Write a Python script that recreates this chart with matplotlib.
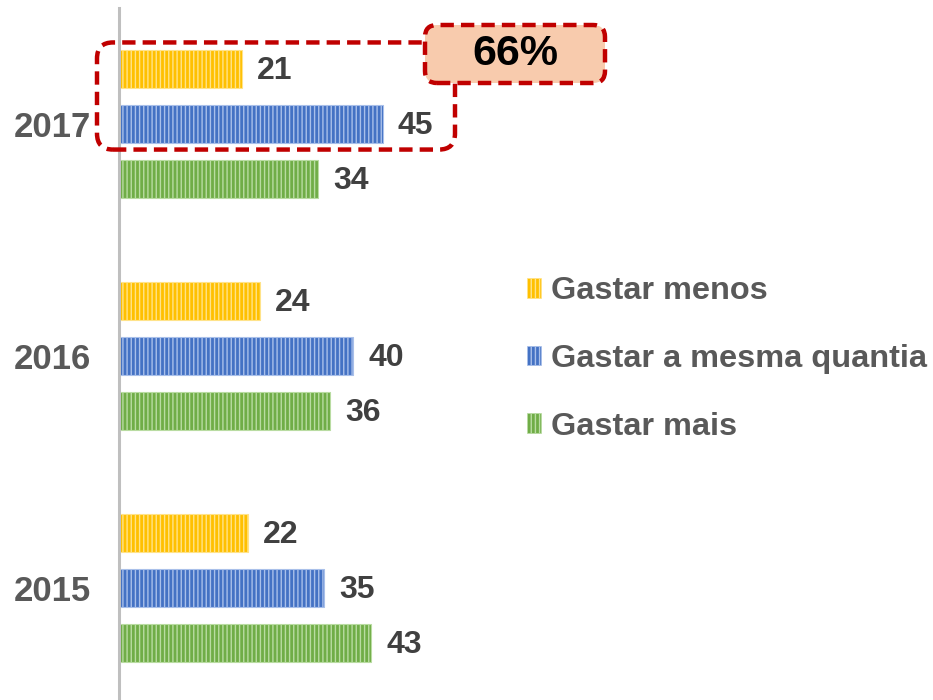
import matplotlib
matplotlib.use("Agg")
import matplotlib.pyplot as plt
from matplotlib.patches import FancyBboxPatch, Patch
import numpy as np

years = ["2015", "2016", "2017"]
series_names = ["Gastar menos", "Gastar a mesma quantia", "Gastar mais"]
gastar_menos = [22, 24, 21]
gastar_mesma = [35, 40, 45]
gastar_mais = [43, 36, 34]
highlight_label = "66%"

colors = ["#FFC000", "#4472C4", "#70AD47"]
stripe = ["#FFE38A", "#A9C0EA", "#B9DCA2"]

plt.rcParams['font.family'] = ['Liberation Sans', 'DejaVu Sans']
plt.rcParams['hatch.linewidth'] = 1.0

fig = plt.figure(figsize=(9.33, 7.0), dpi=100)
ax = fig.add_axes([119/933, 0, 814/933, 692/700])

PXX = 5.86   # px per x unit
PXY = 232.0  # px per y unit

y = np.arange(len(years))
h = 0.16
off = 0.237
series = [gastar_menos, gastar_mesma, gastar_mais]
for i, (vals, c, sc, name) in enumerate(zip(series, colors, stripe, series_names)):
    yy = y + off * (1 - i)
    bars = ax.barh(yy, vals, height=h, color=c, edgecolor=sc, linewidth=0.8,
                   hatch='||||', label=name)
    for b, v in zip(bars, vals):
        ax.text(v + 2.6, b.get_y() + b.get_height() / 2 - 0.01, str(v), va='center', ha='left',
                fontsize=23, fontweight='bold', color='#404040')

ax.set_xlim(0, 814 / PXX)
ax.set_ylim(-112/PXY, 2 + 116/PXY)
ax.set_yticks(y)
ax.set_yticklabels(years, fontsize=25, fontweight='bold', color='#595959')
ax.tick_params(axis='y', length=0, pad=20.5)
ax.set_xticks([])
for s in ['top', 'right', 'bottom']:
    ax.spines[s].set_visible(False)
ax.spines['left'].set_color('#BFBFBF')
ax.spines['left'].set_linewidth(2.2)

dash = (0, (3, 1.6))
red = '#C00000'
aspect = PXX / PXY

# highlight box around 2017 yellow and blue bars
x0, x1 = -22 / PXX, 336 / PXX
y_hi = 2 + off + h / 2 + 8 / PXY
y_lo = 2 - h / 2 - 7 / PXY
rect = FancyBboxPatch((x0, y_lo), x1 - x0, y_hi - y_lo,
                      boxstyle="round,pad=0,rounding_size=%f" % (16 / PXX),
                      mutation_aspect=aspect,
                      fill=False, edgecolor=red, linewidth=3.2,
                      linestyle=dash, clip_on=False, zorder=5)
ax.add_patch(rect)

# 66% callout
bx0, bx1 = 306 / PXX, 486 / PXX
by_hi = 2 + 116 / PXY + 8 / PXY - 25 / PXY
by_lo = by_hi - 58 / PXY
box = FancyBboxPatch((bx0, by_lo), bx1 - bx0, by_hi - by_lo,
                     boxstyle="round,pad=0,rounding_size=%f" % (12 / PXX),
                     mutation_aspect=aspect,
                     facecolor='#F8CBAD', edgecolor=red, linewidth=3.2,
                     linestyle=dash, clip_on=False, zorder=6)
ax.add_patch(box)
ax.text((bx0 + bx1) / 2, (by_lo + by_hi) / 2, highlight_label, ha='center', va='center',
        fontsize=31, fontweight='bold', color='black', zorder=7)

handles = [Patch(facecolor=c, edgecolor=sc, hatch='||||', linewidth=0.5)
           for c, sc in zip(colors, stripe)]
leg = fig.legend(handles, series_names, loc='center left',
                 bbox_to_anchor=(498/933, 1 - 359/700), frameon=False,
                 prop={'size': 23.4, 'weight': 'bold'}, labelcolor='#595959',
                 handlelength=0.42, handleheight=0.55, handletextpad=0.3,
                 labelspacing=1.16)

fig.savefig("out.png", dpi=100)
